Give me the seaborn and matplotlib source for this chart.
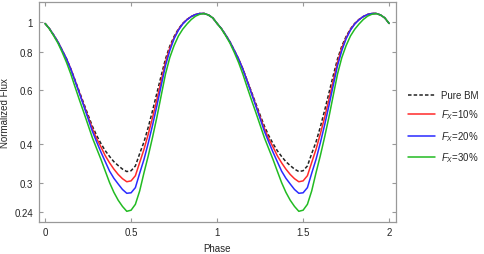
import numpy as np
import pandas as pd
import matplotlib
matplotlib.use("Agg")
import matplotlib.pyplot as plt
import matplotlib.ticker as mticker
import seaborn as sns

phase = [0.0, 0.025, 0.05, 0.075, 0.1, 0.125, 0.15, 0.175, 0.2, 0.225, 0.25, 0.275, 0.3, 0.325,
         0.35, 0.375, 0.4, 0.425, 0.45, 0.475, 0.5, 0.525, 0.55, 0.575, 0.6, 0.625, 0.65, 0.675,
         0.7, 0.725, 0.75, 0.775, 0.8, 0.825, 0.85, 0.875, 0.9, 0.925, 0.95, 0.975,
         1.0, 1.025, 1.05, 1.075, 1.1, 1.125, 1.15, 1.175, 1.2, 1.225, 1.25, 1.275, 1.3, 1.325,
         1.35, 1.375, 1.4, 1.425, 1.45, 1.475, 1.5, 1.525, 1.55, 1.575, 1.6, 1.625, 1.65, 1.675,
         1.7, 1.725, 1.75, 1.775, 1.8, 1.825, 1.85, 1.875, 1.9, 1.925, 1.95, 1.975, 2.0]

pure_bm = [0.989, 0.952, 0.907, 0.861, 0.808, 0.758, 0.703, 0.645, 0.592, 0.543, 0.498, 0.458,
           0.427, 0.402, 0.381, 0.365, 0.351, 0.341, 0.332, 0.326, 0.328, 0.340, 0.373, 0.407,
           0.455, 0.515, 0.587, 0.669, 0.758, 0.835, 0.897, 0.949, 0.989, 1.019, 1.042, 1.058,
           1.066, 1.066, 1.054, 1.031,
           0.989, 0.952, 0.907, 0.861, 0.808, 0.758, 0.703, 0.645, 0.592, 0.543, 0.498, 0.458,
           0.427, 0.402, 0.381, 0.365, 0.351, 0.341, 0.332, 0.326, 0.328, 0.340, 0.373, 0.407,
           0.455, 0.515, 0.587, 0.669, 0.758, 0.835, 0.897, 0.949, 0.989, 1.019, 1.042, 1.058,
           1.066, 1.066, 1.054, 1.031, 0.989]

fx10 = [0.989, 0.952, 0.907, 0.861, 0.808, 0.758, 0.703, 0.643, 0.588, 0.537, 0.491, 0.450,
        0.417, 0.392, 0.367, 0.348, 0.332, 0.319, 0.309, 0.302, 0.304, 0.316, 0.349, 0.385,
        0.432, 0.489, 0.559, 0.644, 0.739, 0.823, 0.889, 0.945, 0.987, 1.019, 1.042, 1.058,
        1.066, 1.066, 1.054, 1.031,
        0.989, 0.952, 0.907, 0.861, 0.808, 0.758, 0.703, 0.643, 0.588, 0.537, 0.491, 0.450,
        0.417, 0.392, 0.367, 0.348, 0.332, 0.319, 0.309, 0.302, 0.304, 0.316, 0.349, 0.385,
        0.432, 0.489, 0.559, 0.644, 0.739, 0.823, 0.889, 0.945, 0.987, 1.019, 1.042, 1.058,
        1.066, 1.066, 1.054, 1.031, 0.989]

fx20 = [0.989, 0.952, 0.907, 0.861, 0.808, 0.758, 0.701, 0.641, 0.585, 0.533, 0.485, 0.441,
        0.407, 0.377, 0.351, 0.327, 0.310, 0.297, 0.285, 0.277, 0.278, 0.289, 0.322, 0.357,
        0.404, 0.462, 0.534, 0.621, 0.721, 0.807, 0.882, 0.940, 0.985, 1.017, 1.042, 1.058,
        1.066, 1.066, 1.054, 1.031,
        0.989, 0.952, 0.907, 0.861, 0.808, 0.758, 0.701, 0.641, 0.585, 0.533, 0.485, 0.441,
        0.407, 0.377, 0.351, 0.327, 0.310, 0.297, 0.285, 0.277, 0.278, 0.289, 0.322, 0.357,
        0.404, 0.462, 0.534, 0.621, 0.721, 0.807, 0.882, 0.940, 0.985, 1.017, 1.042, 1.058,
        1.066, 1.066, 1.054, 1.031, 0.989]

fx30 = [0.989, 0.950, 0.902, 0.853, 0.796, 0.738, 0.676, 0.613, 0.557, 0.508, 0.462, 0.420,
        0.387, 0.357, 0.327, 0.300, 0.279, 0.263, 0.251, 0.242, 0.244, 0.255, 0.282, 0.323,
        0.367, 0.422, 0.490, 0.576, 0.677, 0.766, 0.838, 0.900, 0.947, 0.985, 1.019, 1.045,
        1.060, 1.065, 1.054, 1.031,
        0.989, 0.950, 0.902, 0.853, 0.796, 0.738, 0.676, 0.613, 0.557, 0.508, 0.462, 0.420,
        0.387, 0.357, 0.327, 0.300, 0.279, 0.263, 0.251, 0.242, 0.244, 0.255, 0.282, 0.323,
        0.367, 0.422, 0.490, 0.576, 0.677, 0.766, 0.838, 0.900, 0.947, 0.985, 1.019, 1.045,
        1.060, 1.065, 1.054, 1.031, 0.989]

labels = ["Pure BM", r"$F_X$=10%", r"$F_X$=20%", r"$F_X$=30%"]
colors = ["#222222", "#ff2a2a", "#2a2aff", "#22bb22"]
yticks = [0.24, 0.3, 0.4, 0.6, 0.8, 1]
ytick_labels = ["0.24", "0.3", "0.4", "0.6", "0.8", "1"]
xticks = [0, 0.5, 1, 1.5, 2]
xtick_labels = ["0", "0.5", "1", "1.5", "2"]

frames = []
for lab, vals in zip(labels, [pure_bm, fx10, fx20, fx30]):
    frames.append(pd.DataFrame({"Phase": phase, "Flux": vals, "Series": lab}))
df = pd.concat(frames, ignore_index=True)

sns.set_theme(style="white")
plt.rcParams["font.family"] = ["Liberation Sans", "DejaVu Sans"]
plt.rcParams["mathtext.fontset"] = "custom"
plt.rcParams["mathtext.rm"] = "Liberation Sans"
plt.rcParams["mathtext.it"] = "Liberation Sans:italic"

fig = plt.figure(figsize=(4.85, 2.55), dpi=100)
ax = fig.add_axes([0.0798, 0.127, 0.7367, 0.86])

sns.lineplot(data=df, x="Phase", y="Flux", hue="Series", style="Series",
             palette=dict(zip(labels, colors)),
             dashes={labels[0]: (2.3, 1.4), labels[1]: "", labels[2]: "", labels[3]: ""},
             linewidth=1.1, ax=ax, legend=True, sort=False)

ax.set_yscale("log")
ax.set_xlim(-0.037, 2.04)
ax.set_ylim(0.224, 1.159)
ax.yaxis.set_major_locator(mticker.FixedLocator(yticks))
ax.yaxis.set_major_formatter(mticker.FixedFormatter(ytick_labels))
ax.yaxis.set_minor_locator(mticker.NullLocator())
ax.set_xticks(xticks)
ax.set_xticklabels(xtick_labels)

ax.tick_params(which="both", direction="in", length=3, width=0.8, color="#999999",
               labelsize=7, top=True, right=True, left=True, bottom=True, pad=4)
for sp in ax.spines.values():
    sp.set_color("#999999")
    sp.set_linewidth(0.9)

ax.set_xlabel("Phase", fontsize=7, labelpad=4)
ax.set_ylabel("Normalized Flux", fontsize=7, labelpad=3)

handles, labs = ax.get_legend_handles_labels()
ax.legend(handles, labs, loc="upper left", bbox_to_anchor=(0.841, 0.643),
          bbox_transform=fig.transFigure, frameon=False, borderpad=0, borderaxespad=0,
          fontsize=7, handlelength=2.8, labelspacing=0.78, handletextpad=0.6)

fig.savefig("out.png", dpi=100)
